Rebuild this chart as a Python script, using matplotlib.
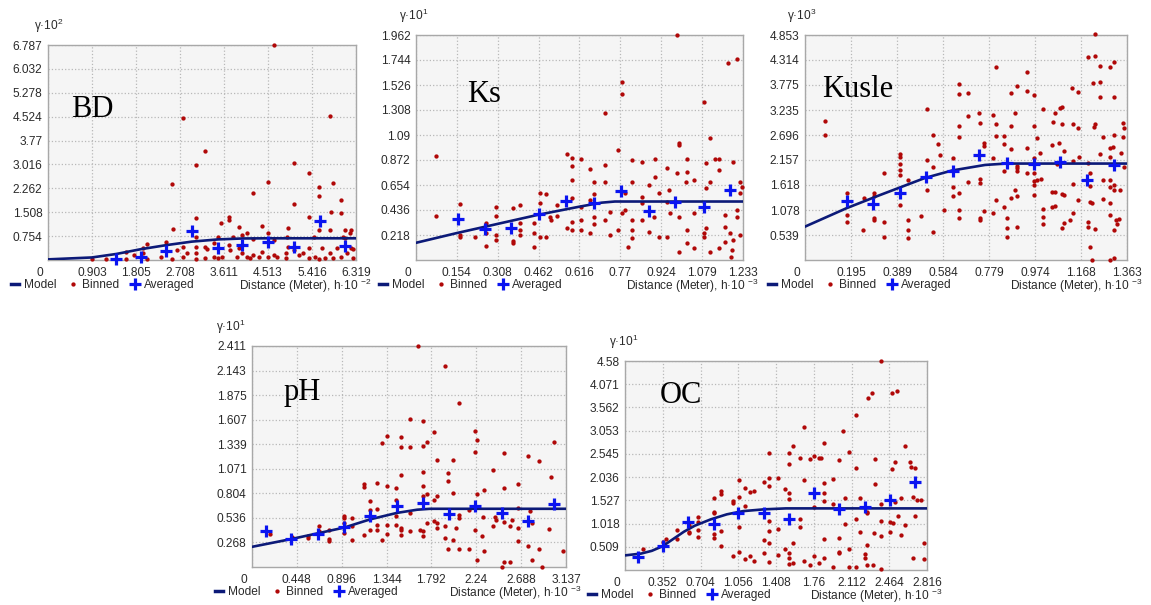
import matplotlib
matplotlib.use("Agg")
import matplotlib.pyplot as plt
from matplotlib.lines import Line2D
from matplotlib import transforms

plt.rcParams['font.family'] = ['Liberation Sans', 'DejaVu Sans']
plt.rcParams['mathtext.fontset'] = 'custom'
plt.rcParams['mathtext.rm'] = 'Liberation Sans'
plt.rcParams['mathtext.it'] = 'Liberation Sans'

# ---------------- BD ----------------
bd_xticks = ["0", "0.903", "1.805", "2.708", "3.611", "4.513", "5.416", "6.319"]
bd_yticks = ["0.754", "1.508", "2.262", "3.016", "3.77", "4.524", "5.278", "6.032", "6.787"]
bd_model_x = [0, 0.9, 1.4, 1.9, 2.43, 2.95, 3.49, 4.0, 4.5, 6.319]
bd_model_y = [0.02, 0.08, 0.19, 0.34, 0.47, 0.58, 0.65, 0.68, 0.685, 0.685]
bd_avg_x = [1.40, 1.91, 2.43, 2.95, 3.49, 3.99, 4.51, 5.04, 5.58, 6.09]
bd_avg_y = [0.02, 0.10, 0.29, 0.93, 0.37, 0.47, 0.58, 0.42, 1.24, 0.45]
bd_bin_x = [4.63, 2.76, 5.79, 3.22, 3.04, 5.04, 2.55, 4.51, 5.36, 4.20, 5.57, 5.57, 5.85, 6.02,
            5.04, 5.80, 6.02, 5.36, 3.04, 3.71, 3.71, 3.54, 2.57, 3.92, 4.39, 4.93, 5.57, 5.79,
            6.09, 6.21, 4.08, 4.51, 3.98,
            0.90, 1.20, 1.60, 1.60, 1.77, 1.94, 1.94, 2.04, 2.04, 2.31, 2.43, 2.55, 2.65, 2.76,
            2.76, 2.86, 3.04, 3.04, 3.04, 3.04, 3.22, 3.22, 3.40, 3.40, 3.49, 3.49, 3.57, 3.71,
            3.74, 3.79, 3.88, 3.92, 3.98, 4.08, 4.15, 4.20, 4.20, 4.32, 4.39, 4.51, 4.63, 4.70,
            4.89, 4.89, 4.93, 5.04, 5.14, 5.24, 5.36, 5.36, 5.48, 5.57, 5.63, 5.68, 5.79, 5.85,
            5.92, 6.02, 6.09, 6.13, 6.21, 6.26, 6.26, 6.06, 6.19, 5.45, 4.90, 4.63, 3.27]
bd_bin_y = [6.79, 4.47, 4.55, 3.44, 3.00, 3.07, 2.39, 2.45, 2.74, 2.11, 2.29, 2.02, 2.42, 1.89,
            1.77, 1.51, 1.47, 1.35, 1.32, 1.37, 1.26, 1.16, 0.98, 1.05, 1.07, 1.00, 0.95, 0.95,
            0.94, 0.95, 0.84, 0.86, 0.79,
            0.02, 0.02, 0.26, 0.02, 0.16, 0.37, 0.21, 0.49, 0.02, 0.11, 0.58, 0.02, 0.32, 0.42,
            0.11, 0.21, 0.72, 0.42, 0.21, 0.02, 0.05, 0.42, 0.11, 0.53, 0.72, 0.05, 0.11, 0.47,
            0.32, 0.72, 0.11, 0.37, 0.21, 0.11, 0.05, 0.65, 0.16, 0.11, 0.26, 0.11, 0.16, 0.11,
            0.05, 0.21, 0.42, 0.32, 0.16, 0.21, 0.37, 0.05, 0.11, 0.02, 0.37, 0.05, 0.21, 0.05,
            0.37, 0.11, 0.68, 0.21, 0.37, 0.05, 0.34, 0.74, 0.84, 0.74, 0.74, 0.63, 0.34]

# ---------------- Ks ----------------
ks_xticks = ["0", "0.154", "0.308", "0.462", "0.616", "0.77", "0.924", "1.079", "1.233"]
ks_yticks = ["0.218", "0.436", "0.654", "0.872", "1.09", "1.308", "1.526", "1.744", "1.962"]
ks_model_x = [0, 0.154, 0.308, 0.462, 0.616, 0.70, 0.75, 1.233]
ks_model_y = [0.15, 0.235, 0.315, 0.395, 0.465, 0.50, 0.51, 0.51]
ks_avg_x = [0.157, 0.261, 0.359, 0.465, 0.566, 0.670, 0.773, 0.877, 0.978, 1.085, 1.185]
ks_avg_y = [0.358, 0.267, 0.276, 0.398, 0.515, 0.500, 0.602, 0.430, 0.509, 0.465, 0.610]
ks_bin_x = [0.075, 0.075, 0.167, 0.167, 0.167, 0.221, 0.265, 0.265, 0.265, 0.303, 0.303, 0.303,
            0.303, 0.365, 0.365, 0.365, 0.393, 0.393, 0.393, 0.393, 0.446, 0.446, 0.446, 0.469,
            0.469, 0.469, 0.490, 0.490, 0.507, 0.510, 0.532, 0.532, 0.569, 0.569, 0.588, 0.588,
            0.588, 0.588, 0.588, 0.588, 0.623, 0.623, 0.623, 0.623, 0.657, 0.657, 0.657, 0.671,
            0.671, 0.671, 0.671, 0.714, 0.714, 0.714, 0.714, 0.733, 0.733, 0.762, 0.762, 0.777,
            0.777, 0.777, 0.789, 0.789, 0.798, 0.814, 0.814, 0.814, 0.814, 0.814, 0.852, 0.852,
            0.852, 0.852, 0.877, 0.877, 0.896, 0.900, 0.900, 0.915, 0.915, 0.946, 0.946, 0.946,
            0.953, 0.959, 0.984, 0.984, 0.990, 0.990, 0.990, 0.990, 1.018, 1.022, 1.022, 1.022,
            1.022, 1.047, 1.047, 1.047, 1.085, 1.085, 1.085, 1.095, 1.095, 1.095, 1.110, 1.110,
            1.110, 1.129, 1.141, 1.141, 1.141, 1.166, 1.166, 1.166, 1.175, 1.185, 1.192, 1.188,
            1.194, 1.194, 1.210, 1.210, 1.210, 1.223, 1.223, 1.223, 1.229]
ks_bin_y = [0.907, 0.384, 0.488, 0.218, 0.198, 0.203, 0.326, 0.233, 0.122, 0.465, 0.384, 0.218,
            0.174, 0.451, 0.169, 0.151, 0.480, 0.320, 0.262, 0.218, 0.320, 0.233, 0.110, 0.587,
            0.500, 0.203, 0.576, 0.203, 0.378, 0.349, 0.480, 0.384, 0.924, 0.276, 0.887, 0.823,
            0.698, 0.538, 0.334, 0.262, 0.878, 0.465, 0.349, 0.262, 0.791, 0.523, 0.233, 0.683,
            0.576, 0.378, 0.314, 1.279, 0.828, 0.683, 0.349, 0.422, 0.218, 0.959, 0.262, 1.549,
            1.448, 0.407, 0.587, 0.436, 0.116, 0.872, 0.683, 0.349, 0.262, 0.189, 0.858, 0.552,
            0.494, 0.349, 0.654, 0.247, 0.378, 0.878, 0.727, 0.581, 0.203, 0.800, 0.509, 0.203,
            0.610, 0.407, 1.962, 0.762, 1.017, 1.003, 0.378, 0.073, 0.683, 0.878, 0.770, 0.262,
            0.145, 0.698, 0.407, 0.102, 1.381, 0.233, 0.203, 0.843, 0.625, 0.276, 1.061, 0.683,
            0.073, 0.878, 0.878, 0.785, 0.102, 0.392, 0.291, 0.160, 1.721, 0.233, 0.087, 0.023,
            0.858, 0.174, 1.750, 0.436, 0.378, 0.683, 0.581, 0.218, 0.640]

# ---------------- Kusle ----------------
ku_xticks = ["0", "0.195", "0.389", "0.584", "0.779", "0.974", "1.168", "1.363"]
ku_yticks = ["0.539", "1.078", "1.618", "2.157", "2.696", "3.235", "3.775", "4.314", "4.853"]
ku_model_x = [0, 0.177, 0.317, 0.41, 0.508, 0.622, 0.762, 0.85, 1.363]
ku_model_y = [0.72, 1.12, 1.40, 1.58, 1.77, 1.93, 2.05, 2.08, 2.08]
ku_avg_x = [0.177, 0.286, 0.403, 0.513, 0.625, 0.738, 0.854, 0.970, 1.080, 1.193, 1.310]
ku_avg_y = [1.27, 1.21, 1.45, 1.80, 1.93, 2.26, 2.10, 2.08, 2.12, 1.73, 2.05]
ku_bin_x = [0.085, 0.085, 0.179, 0.179, 0.179, 0.245, 0.250, 0.292, 0.292, 0.292, 0.292, 0.334,
            0.334, 0.334, 0.403, 0.403, 0.403, 0.403, 0.403, 0.403, 0.434, 0.434, 0.434, 0.434,
            0.491, 0.516, 0.516, 0.516, 0.541, 0.541, 0.541, 0.565, 0.572, 0.587, 0.626, 0.628,
            0.628, 0.650, 0.650, 0.650, 0.650, 0.650, 0.650, 0.650, 0.688, 0.688, 0.688, 0.735,
            0.739, 0.739, 0.739, 0.739, 0.741, 0.756, 0.756, 0.758, 0.794, 0.794, 0.794, 0.810,
            0.810, 0.810, 0.810, 0.841, 0.841, 0.841, 0.841, 0.855, 0.855, 0.855, 0.871, 0.871,
            0.871, 0.871, 0.890, 0.890, 0.899, 0.899, 0.899, 0.899, 0.899, 0.899, 0.939, 0.939,
            0.939, 0.939, 0.968, 0.968, 0.968, 0.968, 0.968, 0.968, 0.968, 0.982, 0.982, 0.996,
            0.999, 1.007, 1.007, 1.007, 1.007, 1.045, 1.045, 1.045, 1.049, 1.059, 1.059, 1.059,
            1.067, 1.074, 1.080, 1.087, 1.087, 1.087, 1.087, 1.095, 1.095, 1.098, 1.123, 1.130,
            1.134, 1.134, 1.134, 1.134, 1.154, 1.154, 1.154, 1.158, 1.197, 1.197, 1.197, 1.197,
            1.208, 1.208, 1.208, 1.208, 1.215, 1.215, 1.219, 1.222, 1.228, 1.228, 1.228, 1.228,
            1.247, 1.247, 1.247, 1.247, 1.262, 1.262, 1.262, 1.290, 1.290, 1.290, 1.293, 1.293,
            1.293, 1.293, 1.293, 1.303, 1.309, 1.309, 1.309, 1.309, 1.309, 1.309, 1.310, 1.318,
            1.321, 1.328, 1.335, 1.338, 1.346, 1.346, 1.349, 1.349]
ku_bin_y = [3.00, 2.70, 1.44, 0.97, 0.83, 0.65, 1.33, 1.44, 1.37, 0.90, 0.86, 1.87,
            0.81, 0.49, 2.29, 2.23, 2.08, 1.94, 1.83, 1.19, 1.73, 0.86, 0.65, 0.47,
            0.95, 3.25, 2.16, 1.51, 2.70, 2.01, 0.61, 2.50, 2.26, 1.08, 2.21, 1.58,
            1.38, 3.79, 3.57, 2.88, 2.65, 1.45, 0.90, 1.08, 3.61, 3.11, 1.69, 3.16,
            2.96, 1.74, 1.67, 0.90, 0.86, 2.52, 2.46, 1.06, 3.13, 2.19, 1.01, 4.17,
            2.93, 2.67, 1.29, 2.67, 2.50, 1.91, 1.15, 0.90, 0.68, 0.50, 3.61, 2.88,
            2.39, 1.33, 3.16, 1.51, 3.75, 2.03, 1.98, 1.93, 1.37, 0.72, 4.06, 3.65,
            2.42, 1.87, 3.56, 2.88, 2.19, 1.87, 1.71, 1.62, 1.40, 2.64, 1.73, 2.31,
            1.74, 3.25, 1.11, 0.93, 0.78, 2.48, 1.47, 1.15, 2.98, 3.16, 1.47, 1.16,
            2.08, 2.52, 3.27, 3.31, 2.93, 1.42, 0.68, 2.36, 1.40, 0.79, 0.86, 3.72,
            2.93, 2.14, 1.65, 1.02, 3.63, 2.84, 1.29, 2.23, 4.37, 2.10, 0.83, 0.72,
            1.87, 1.60, 1.26, 0.27, 1.24, 0.01, 3.81, 2.86, 4.87, 4.40, 2.93, 0.66,
            4.19, 3.85, 3.51, 2.29, 2.65, 1.73, 1.31, 4.17, 2.41, 2.23, 1.73, 1.58,
            1.22, 0.97, 0.00, 2.44, 4.26, 3.51, 2.70, 1.62, 1.50, 0.65, 0.04, 0.86,
            0.78, 0.88, 1.51, 2.30, 2.96, 2.66, 2.84, 2.01]

# ---------------- pH ----------------
ph_xticks = ["0", "0.448", "0.896", "1.344", "1.792", "2.24", "2.688", "3.137"]
ph_yticks = ["0.268", "0.536", "0.804", "1.071", "1.339", "1.607", "1.875", "2.143", "2.411"]
ph_model_x = [0, 0.393, 0.921, 1.181, 1.447, 1.65, 1.78, 3.137]
ph_model_y = [0.22, 0.305, 0.43, 0.52, 0.59, 0.625, 0.635, 0.635]
ph_avg_x = [0.136, 0.393, 0.655, 0.921, 1.181, 1.447, 1.707, 1.969, 2.229, 2.495, 2.761, 3.017]
ph_avg_y = [0.389, 0.305, 0.363, 0.432, 0.552, 0.661, 0.697, 0.581, 0.661, 0.588, 0.505, 0.690]
ph_bin_x = [0.183, 0.399, 0.556, 0.556, 0.665, 0.665, 0.765, 0.765, 0.765, 0.921, 0.921, 0.921,
            0.921, 0.998, 0.998, 0.998, 1.121, 1.121, 1.121, 1.181, 1.181, 1.181, 1.248, 1.248,
            1.248, 1.248, 1.297, 1.297, 1.347, 1.347, 1.347, 1.347, 1.440, 1.440, 1.440, 1.440,
            1.487, 1.487, 1.487, 1.487, 1.487, 1.487, 1.580, 1.580, 1.580, 1.580, 1.663, 1.680,
            1.707, 1.707, 1.707, 1.707, 1.707, 1.707, 1.707, 1.747, 1.747, 1.747, 1.820, 1.820,
            1.820, 1.846, 1.853, 1.853, 1.853, 1.929, 1.929, 1.929, 1.963, 1.963, 1.963, 2.006,
            2.006, 2.006, 2.039, 2.069, 2.069, 2.069, 2.069, 2.172, 2.172, 2.229, 2.229, 2.229,
            2.252, 2.252, 2.252, 2.295, 2.312, 2.319, 2.319, 2.412, 2.412, 2.428, 2.438, 2.495,
            2.518, 2.518, 2.518, 2.518, 2.578, 2.578, 2.601, 2.661, 2.661, 2.661, 2.661, 2.754,
            2.754, 2.778, 2.794, 2.801, 2.871, 2.871, 2.894, 2.971, 2.984, 3.017, 3.104]
ph_bin_y = [0.363, 0.323, 0.341, 0.316, 0.443, 0.389, 0.407, 0.305, 0.280, 0.559, 0.534, 0.479,
            0.370, 0.534, 0.443, 0.298, 0.904, 0.868, 0.352, 0.715, 0.625, 0.407, 0.915, 0.632,
            0.461, 0.399, 1.351, 0.298, 1.431, 0.879, 0.461, 0.363, 0.861, 0.726, 0.552, 0.461,
            1.423, 1.314, 1.006, 0.425, 0.399, 0.352, 1.612, 1.307, 0.588, 0.389, 2.411, 0.407,
            1.598, 1.322, 1.031, 0.879, 0.770, 0.389, 0.341, 1.369, 0.799, 0.479, 1.478, 0.733,
            0.497, 0.425, 1.169, 0.770, 0.479, 2.193, 0.450, 0.316, 1.024, 0.933, 0.196, 1.162,
            0.806, 0.290, 0.425, 1.794, 0.570, 0.534, 0.196, 0.625, 0.196, 1.489, 1.260, 0.399,
            1.387, 0.799, 0.073, 0.341, 0.545, 0.842, 0.171, 1.053, 0.443, 0.545, 0.516, 0.000,
            1.249, 0.861, 0.487, 0.051, 0.450, 0.051, 0.508, 0.904, 0.643, 0.425, 0.280, 1.206,
            0.225, 0.606, 0.479, 0.073, 1.151, 0.196, 0.000, 0.414, 0.977, 1.369, 0.171]

# ---------------- OC ----------------
oc_xticks = ["0", "0.352", "0.704", "1.056", "1.408", "1.76", "2.112", "2.464", "2.816"]
oc_yticks = ["0.509", "1.018", "1.527", "2.036", "2.545", "3.053", "3.562", "4.071", "4.58"]
oc_model_x = [0, 0.15, 0.25, 0.35, 0.45, 0.55, 0.65, 0.8, 0.95, 1.1, 1.3, 1.5, 2.816]
oc_model_y = [0.32, 0.36, 0.42, 0.52, 0.68, 0.84, 0.97, 1.11, 1.22, 1.29, 1.33, 1.35, 1.35]
oc_avg_x = [0.118, 0.358, 0.592, 0.826, 1.056, 1.293, 1.526, 1.766, 2.000, 2.234, 2.467, 2.707]
oc_avg_y = [0.277, 0.532, 1.043, 1.007, 1.255, 1.240, 1.109, 1.692, 1.327, 1.386, 1.532, 1.918]
oc_bin_x = [0.168, 0.358, 0.380, 0.489, 0.489, 0.598, 0.598, 0.598, 0.685, 0.685, 0.685, 0.685,
            0.832, 0.832, 0.832, 0.832, 0.832, 0.894, 0.894, 0.894, 0.894, 1.009, 1.009, 1.009,
            1.059, 1.059, 1.059, 1.059, 1.118, 1.118, 1.118, 1.165, 1.165, 1.206, 1.206, 1.293,
            1.293, 1.293, 1.340, 1.340, 1.340, 1.340, 1.340, 1.340, 1.340, 1.424, 1.424, 1.424,
            1.492, 1.492, 1.533, 1.533, 1.533, 1.533, 1.533, 1.533, 1.533, 1.564, 1.564, 1.564,
            1.636, 1.636, 1.636, 1.673, 1.673, 1.673, 1.729, 1.729, 1.766, 1.766, 1.766, 1.807,
            1.807, 1.829, 1.860, 1.860, 1.860, 1.860, 1.860, 1.860, 1.938, 1.938, 1.938, 2.000,
            2.000, 2.000, 2.000, 2.031, 2.047, 2.047, 2.087, 2.087, 2.087, 2.156, 2.156, 2.156,
            2.156, 2.187, 2.187, 2.234, 2.234, 2.255, 2.255, 2.255, 2.255, 2.265, 2.305, 2.312,
            2.318, 2.327, 2.327, 2.383, 2.383, 2.383, 2.383, 2.383, 2.467, 2.473, 2.492, 2.492,
            2.498, 2.514, 2.514, 2.539, 2.545, 2.570, 2.570, 2.607, 2.607, 2.654, 2.670, 2.685,
            2.685, 2.701, 2.707, 2.726, 2.763, 2.788, 2.788]
oc_bin_y = [0.452, 0.605, 0.671, 0.875, 0.671, 0.985, 0.839, 0.802, 1.152, 1.058, 0.875, 0.729,
            1.583, 1.276, 1.240, 0.788, 0.693, 1.729, 1.656, 0.861, 0.525, 1.510, 1.459, 0.306,
            1.969, 1.605, 0.934, 0.401, 1.787, 1.400, 0.233, 1.699, 0.306, 1.736, 0.204, 1.933,
            0.365, 0.656, 2.553, 2.020, 1.838, 1.080, 0.861, 0.584, 0.182, 2.006, 0.890, 0.328,
            1.765, 0.452, 2.553, 2.319, 1.692, 1.546, 0.365, 0.255, 0.131, 2.713, 0.584, 0.146,
            1.109, 0.948, 2.465, 3.136, 1.969, 0.204, 2.422, 0.109, 2.495, 1.386, 0.306, 2.458,
            0.160, 2.465, 2.786, 1.911, 1.692, 1.517, 0.671, 0.255, 1.984, 1.444, 0.073, 2.407,
            0.708, 0.401, 0.365, 3.049, 1.568, 0.999, 2.589, 0.452, 0.073, 3.392, 2.225, 1.109,
            0.073, 1.568, 0.839, 0.343, 0.255, 1.276, 1.240, 0.547, 0.109, 3.778, 3.880, 0.109,
            0.817, 1.875, 2.443, 4.580, 1.444, 1.080, 0.744, 0.015, 0.839, 1.043, 3.880, 2.203,
            1.036, 2.371, 1.495, 3.924, 1.182, 1.568, 0.766, 2.713, 0.985, 2.371, 2.261, 1.605,
            0.255, 2.225, 1.182, 1.532, 1.532, 0.598, 0.233]

W, H = 1151, 605
fig = plt.figure(figsize=(W / 100, H / 100), dpi=100)

red = '#b00808'
blue = '#0a14f0'
navy = '#0c1a78'
txt = '#2a2a2a'
fs = 8.6


def panel(box, name, name_pos, yexp, xexp, gam_dx, xt, yt, mx, my, bx, by, ax_, ay_):
    left, right, top, bottom = box
    ax = fig.add_axes([left / W, (H - bottom) / H, (right - left) / W, (bottom - top) / H])
    ax.set_facecolor('#f5f5f5')
    for s in ax.spines.values():
        s.set_color('#a8a8a8')
        s.set_linewidth(1)
    xv = [float(t) for t in xt]
    yv = [float(t) for t in yt]
    ax.set_xlim(0, xv[-1])
    ax.set_ylim(0, yv[-1])
    ax.set_xticks(xv)
    ax.set_xticklabels(xt)
    ax.set_yticks(yv)
    ax.set_yticklabels(yt)
    ax.tick_params(length=0, labelsize=fs, colors=txt)
    ax.tick_params(axis='x', pad=5)
    ax.tick_params(axis='y', pad=4)
    # the "0" under the corner sits a bit to the left
    lab0 = ax.get_xticklabels()[0]
    lab0.set_transform(lab0.get_transform() +
                       transforms.ScaledTranslation(-0.08, 0, fig.dpi_scale_trans))
    ax.grid(color='#b8b8b8', linestyle=':', linewidth=0.9)
    ax.set_axisbelow(True)

    ax.plot(bx, by, 'o', color=red, ms=3.1, mew=0, clip_on=False, zorder=3)
    ax.plot(mx, my, '-', color=navy, lw=1.9, zorder=4)
    ax.plot(ax_, ay_, '+', color=blue, ms=8.5, mew=2.3, clip_on=False, zorder=5)

    ax.text(name_pos[0], name_pos[1], name, transform=ax.transAxes,
            family='Liberation Serif', fontsize=22, ha='left', va='baseline')

    # y label above axis
    tr = transforms.offset_copy(ax.transAxes, fig=fig, x=gam_dx, y=10, units='dots')
    ax.text(0, 1, r'γ·10$^{%s}$' % yexp, transform=tr, ha='center', va='bottom',
            fontsize=fs, color=txt)

    # distance label below right
    tr2 = transforms.offset_copy(ax.transAxes, fig=fig, x=16, y=-26, units='dots')
    ax.text(1, 0, r'Distance (Meter), h·10 $^{%s}$' % xexp, transform=tr2, ha='right',
            va='center', fontsize=fs, color=txt)

    handles = [Line2D([], [], color=navy, lw=2.5),
               Line2D([], [], ls='', marker='o', color=red, ms=3.1, mew=0),
               Line2D([], [], ls='', marker='+', color=blue, ms=8.5, mew=2.3)]
    tr3 = transforms.offset_copy(ax.transAxes, fig=fig, x=-37, y=-19, units='dots')
    leg = ax.legend(handles, ['Model', 'Binned', 'Averaged'], loc='upper left',
                    bbox_to_anchor=(0, 0), bbox_transform=tr3, ncol=3, frameon=False,
                    fontsize=fs, handlelength=0.7, handletextpad=0.4, columnspacing=1.0,
                    borderpad=0, borderaxespad=0)
    for t in leg.get_texts():
        t.set_color(txt)
    return ax


panel((48, 356, 45, 260), 'BD', (0.074, 0.665), '2', '-2', 1,
      bd_xticks, bd_yticks, bd_model_x, bd_model_y, bd_bin_x, bd_bin_y, bd_avg_x, bd_avg_y)
panel((416, 743, 35, 260), 'Ks', (0.156, 0.70), '1', '-3', -2,
      ks_xticks, ks_yticks, ks_model_x, ks_model_y, ks_bin_x, ks_bin_y, ks_avg_x, ks_avg_y)
panel((805, 1127, 35, 260), 'Kusle', (0.053, 0.724), '3', '-3', -3,
      ku_xticks, ku_yticks, ku_model_x, ku_model_y, ku_bin_x, ku_bin_y, ku_avg_x, ku_avg_y)
panel((252, 566, 346, 567), 'pH', (0.099, 0.756), '1', '-3', -21,
      ph_xticks, ph_yticks, ph_model_x, ph_model_y, ph_bin_x, ph_bin_y, ph_avg_x, ph_avg_y)
panel((625, 927, 361, 570), 'OC', (0.116, 0.80), '1', '-3', -1,
      oc_xticks, oc_yticks, oc_model_x, oc_model_y, oc_bin_x, oc_bin_y, oc_avg_x, oc_avg_y)

fig.savefig('out.png', dpi=100, facecolor='white')
